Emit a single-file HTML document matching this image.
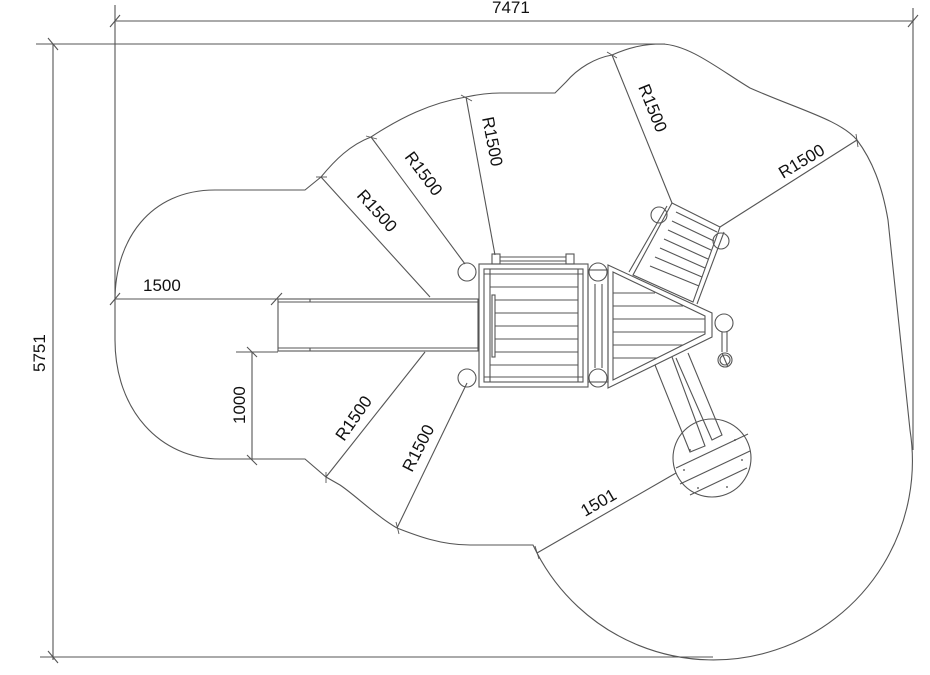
<!DOCTYPE html>
<html><head><meta charset="utf-8"><style>
html,body{margin:0;padding:0;background:#fff;width:930px;height:675px;overflow:hidden}
svg{display:block}
text{font-family:"Liberation Sans",sans-serif;font-size:17px;fill:#111}
</style></head><body>
<svg width="930" height="675" viewBox="0 0 930 675" xmlns="http://www.w3.org/2000/svg">
<g fill="none" stroke="#555" stroke-width="1.1">
<!-- dimension frame -->
<line x1="115" y1="21" x2="913" y2="21"/>
<line x1="115" y1="5" x2="115" y2="300"/>
<line x1="913" y1="8" x2="913" y2="450"/>
<line x1="110" y1="27" x2="120" y2="15"/><line x1="908" y1="27" x2="918" y2="15"/>
<line x1="36" y1="44" x2="665" y2="44"/>
<line x1="53" y1="44" x2="53" y2="660"/>
<line x1="40" y1="657" x2="713" y2="657"/>
<line x1="48" y1="38" x2="58" y2="50"/><line x1="48" y1="651" x2="58" y2="663"/>
<!-- outline -->
<path d="M115,300 C115,240 150,190 215,190 L305,190 L321,177 C335,160 350,145 371,137 C400,118 430,103 466,97 C480,94 490,93 500,93 L555,93 L566,82 C578,68 595,58 612,55 C630,47 645,44 662,44 C690,45 720,70 750,88 C800,110 840,120 857,140 C872,160 882,185 888,220 L910,430 A199,199 0 0 1 537,553 L533,545 L470,545 C440,545 415,535 397,528 C375,515 355,495 340,485 L326,477 L305,459 L220,459 C160,459 115,410 115,340 Z"/>
<!-- radius lines -->
<line x1="321" y1="177" x2="430" y2="297"/>
<line x1="371" y1="137" x2="465" y2="264"/>
<line x1="466" y1="97" x2="495" y2="255"/>
<line x1="612" y1="55" x2="672" y2="203"/>
<line x1="857" y1="140" x2="720" y2="227"/>
<line x1="326" y1="477" x2="425" y2="352"/>
<line x1="397" y1="528" x2="467" y2="383"/>
<line x1="537" y1="553" x2="676" y2="473"/>
<g stroke-width="0.9">
<line x1="316" y1="177" x2="327" y2="177"/><line x1="366" y1="136" x2="377" y2="139"/>
<line x1="461" y1="95" x2="472" y2="101"/><line x1="607" y1="52" x2="617" y2="58"/>
<line x1="856" y1="134" x2="858" y2="147"/><line x1="326" y1="472" x2="326" y2="483"/>
<line x1="396" y1="522" x2="399" y2="534"/><line x1="535" y1="546" x2="539" y2="559"/>
</g>
<!-- 1500 and 1000 dims -->
<line x1="115" y1="299" x2="278" y2="299"/>
<line x1="110" y1="305" x2="120" y2="293"/><line x1="271" y1="305" x2="282" y2="293"/>
<line x1="236" y1="352" x2="278" y2="352"/>
<line x1="252" y1="352" x2="252" y2="460"/>
<line x1="247" y1="347" x2="257" y2="357"/><line x1="247" y1="455" x2="257" y2="465"/>
<!-- slide -->
<rect x="278" y="299" width="200" height="52"/>
<line x1="278" y1="302" x2="478" y2="302"/><line x1="278" y1="348" x2="478" y2="348"/>
<line x1="310" y1="299" x2="310" y2="302"/><line x1="310" y1="348" x2="310" y2="351"/>
<!-- deck -->
<rect x="479" y="264" width="109" height="123"/>
<rect x="484" y="269" width="99" height="113"/>
<line x1="484" y1="274" x2="583" y2="274"/><line x1="484" y1="377" x2="583" y2="377"/>
<line x1="490" y1="269" x2="490" y2="382"/><line x1="578" y1="269" x2="578" y2="382"/>
<line x1="490" y1="287" x2="578" y2="287"/><line x1="495" y1="300" x2="578" y2="300"/>
<line x1="495" y1="313" x2="578" y2="313"/><line x1="495" y1="326" x2="578" y2="326"/>
<line x1="495" y1="339" x2="578" y2="339"/><line x1="495" y1="352" x2="578" y2="352"/>
<line x1="490" y1="365" x2="578" y2="365"/>
<rect x="492" y="295" width="3" height="62"/>
<rect x="492" y="254" width="8" height="10"/><rect x="566" y="254" width="8" height="10"/>
<line x1="500" y1="257" x2="566" y2="257"/><line x1="500" y1="261" x2="566" y2="261"/>
<!-- strip -->
<rect x="588" y="270" width="20" height="112"/>
<line x1="595" y1="284" x2="595" y2="368"/><line x1="602" y1="284" x2="602" y2="368"/>
<!-- triangle platform -->
<path d="M608,265 L712,313 L712,337 L608,388 Z"/>
<path d="M613,272 L705,316 L705,334 L613,380 Z"/>
<line x1="613" y1="293" x2="655" y2="293"/><line x1="613" y1="306" x2="683" y2="306"/>
<line x1="613" y1="319" x2="705" y2="319"/><line x1="613" y1="332" x2="705" y2="332"/>
<line x1="613" y1="345" x2="683" y2="345"/><line x1="613" y1="358" x2="657" y2="358"/>
<!-- ladder -->
<path d="M672,203 L720,227 L693,302 L633,275 Z"/>
<line x1="676" y1="212" x2="717" y2="232"/><line x1="672" y1="221" x2="714" y2="241"/>
<line x1="668" y1="230" x2="711" y2="250"/><line x1="664" y1="239" x2="708" y2="259"/>
<line x1="660" y1="248" x2="705" y2="268"/><line x1="655" y1="257" x2="702" y2="277"/>
<line x1="650" y1="266" x2="699" y2="286"/>
<line x1="667" y1="206" x2="629" y2="272"/><line x1="724" y1="232" x2="697" y2="304"/>
<!-- beam to disc -->
<path d="M655,365 L690,452 L705,446 L672,357"/>
<path d="M676,358 L712,440 L722,435 L688,353"/>
<!-- disc -->
<circle cx="712" cy="458" r="39"/>
<line x1="676" y1="468" x2="748" y2="434"/><line x1="680" y1="484" x2="750" y2="451"/>
<line x1="690" y1="495" x2="747" y2="468"/>
<!-- posts -->
<circle cx="467" cy="272" r="9"/><circle cx="467" cy="378" r="9"/>
<circle cx="598" cy="272" r="9"/><circle cx="598" cy="378" r="9"/>
<circle cx="659" cy="215" r="8"/><circle cx="721" cy="241" r="8"/>
<circle cx="724" cy="323" r="9"/>
<line x1="722" y1="332" x2="722" y2="352"/><line x1="727" y1="332" x2="727" y2="352"/>
<circle cx="725" cy="360" r="7"/><circle cx="725" cy="360" r="5"/>
<line x1="722" y1="353" x2="728" y2="367"/>
</g>
<g fill="#444">
<circle cx="690" cy="450" r="0.9"/><circle cx="735" cy="440" r="0.9"/><circle cx="698" cy="488" r="0.9"/>
<circle cx="727" cy="487" r="0.9"/><circle cx="684" cy="470" r="0.9"/><circle cx="742" cy="460" r="0.9"/>
</g>
<text x="492" y="13">7471</text>
<text transform="translate(45,372) rotate(-90)">5751</text>
<text x="143" y="291">1500</text>
<text transform="translate(245,424) rotate(-90)">1000</text>
<text transform="translate(356,196) rotate(48)">R1500</text>
<text transform="translate(404,157) rotate(53)">R1500</text>
<text transform="translate(482,118) rotate(79)">R1500</text>
<text transform="translate(638,87) rotate(68)">R1500</text>
<text transform="translate(783,179) rotate(-31)">R1500</text>
<text transform="translate(344,442) rotate(-55)">R1500</text>
<text transform="translate(412,473) rotate(-63)">R1500</text>
<text transform="translate(585,517) rotate(-30)">1501</text>
</svg>
</body></html>
